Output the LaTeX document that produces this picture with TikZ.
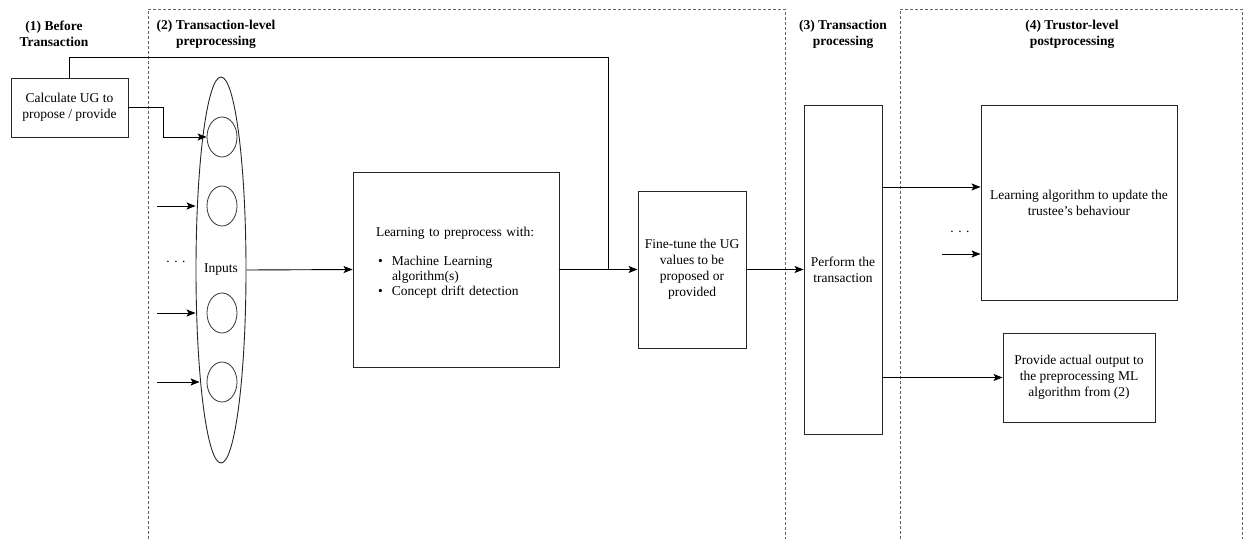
\documentclass[tikz,border=0pt]{standalone}
\usepackage{fontspec}
\setmainfont{Liberation Serif}
\usetikzlibrary{shapes.geometric,arrows.meta,calc}

\begin{document}
\begin{tikzpicture}[x=1pt,y=-1pt,
  every node/.style={font=\fontsize{13.5}{16}\selectfont},
  box/.style={draw=black!85, line width=0.9pt, inner sep=0pt, align=center},
  title/.style={font=\fontsize{13.5}{16}\selectfont\bfseries, align=center},
  region/.style={draw=black!60, line width=0.8pt, dash pattern=on 3pt off 2pt},
  link/.style={draw=black, line width=0.9pt},
  arr/.style={link, -{Stealth[length=9pt,width=7pt,inset=2pt]}},
  unit/.style={draw=black!80, line width=0.8pt, ellipse, inner sep=0pt,
    minimum width=30pt, minimum height=40pt},
  dots/.style={font=\fontsize{13.5}{16}\selectfont}
]
\useasboundingbox (0,0) rectangle (1243,539);

% stage frames
\draw[region] (148,539) -- (148,9) -- (785,9) -- (785,539);
\draw[region] (900,539) -- (900,9) -- (1242,9) -- (1242,539);

% stage headings
\node[title] (t1) at (54,34) {(1) Before\\Transaction};
\node[title] (t2) at (216,34) {(2) Transaction-level\\preprocessing};
\node[title] (t3) at (843,34) {(3) Transaction\\processing};
\node[title] (t4) at (1072,34) {(4) Trustor-level\\postprocessing};

% (1) before the transaction
\node[box, minimum width=117pt, minimum height=59pt] (calc) at (69.5,107.5)
  {Calculate UG to\\propose / provide};

% (2) input layer
\node[draw=black!85, line width=0.9pt, ellipse, inner sep=0pt,
  minimum width=50pt, minimum height=386pt] (inputs) at (221,270) {Inputs};
\node[unit] (c1) at (222,137) {};
\node[unit] (c2) at (222,206) {};
\node[unit] (c3) at (222,313) {};
\node[unit] (c4) at (222,382) {};
\node[dots] (d1) at (176,262) {.\,\,.\,\,.};

\coordinate (i2) at (157,206);
\coordinate (i3) at (157,313);
\coordinate (i4) at (157,382);

% learning block
\node[box, minimum width=206pt, minimum height=195pt, text width=160pt,
  align=left] (learn) at (456,269.5)
  {Learning to preprocess with:\\[13pt]
   \hspace*{2pt}\makebox[14pt][l]{\textbullet}Machine Learning\\[-1pt]
   \hspace*{16pt}algorithm(s)\\[-1pt]
   \hspace*{2pt}\makebox[14pt][l]{\textbullet}Concept drift detection\\
   \mbox{}};

\node[box, minimum width=108pt, minimum height=157pt] (tune) at (692,269.5)
  {Fine-tune the UG\\values to be\\proposed or\\provided};

% (3) transaction
\node[box, minimum width=78pt, minimum height=329pt] (perform) at (843,269.5)
  {Perform the\\transaction};

% (4) postprocessing
\node[box, minimum width=196pt, minimum height=195pt] (alg) at (1079,202.5)
  {Learning algorithm to update the\\trustee's behaviour};
\node[box, minimum width=152pt, minimum height=89pt] (provide) at (1079,377.5)
  {Provide actual output to\\the preprocessing ML\\algorithm from (2)};
\node[dots] (d2) at (960,232) {.\,\,.\,\,.};
\coordinate (i5) at (942,254);

% connectors
\draw[arr] (calc.east) -- ++(35,0) |- (c1.west);
\draw[arr] (i2) -- (i2 -| inputs.west);
\draw[arr] (i3) -- (i3 -| inputs.west);
\draw[arr] (i4) -- ($(i4 -| inputs.west)+(4,0)$);
\draw[arr] (inputs.east) -- (learn.west);
\draw[arr] (learn.east) -- (tune.west);
\coordinate (j) at ($(learn.east)!0.627!(tune.west)$);
\draw[link] (calc.north) -- ++(0,-20) -| (j);
\draw[arr] (tune.east) -- (perform.west);
\coordinate (pa) at ([yshift=82.5pt]perform.east);
\draw[arr] (pa) -- (pa -| alg.west);
\draw[arr] (i5) -- (i5 -| alg.west);
\draw[arr] (perform.east |- provide.west) -- (provide.west);

\end{tikzpicture}
\end{document}
